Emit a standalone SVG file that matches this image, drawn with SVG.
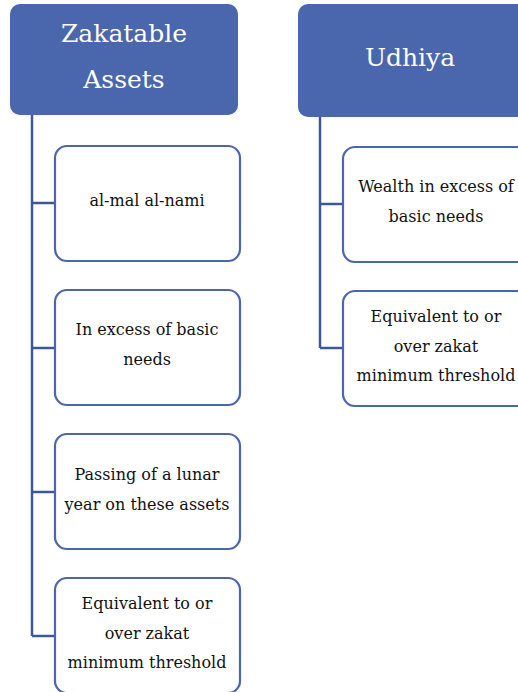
<svg xmlns="http://www.w3.org/2000/svg" width="518" height="692" viewBox="0 0 518 692">
<style>
.hdr{fill:#4A66AC}
.box{fill:#fff;stroke:#4A66AC;stroke-width:2.2}
.ht{font-family:'DejaVu Serif','Liberation Serif',serif;font-size:25px;fill:#fff;text-anchor:middle}
.bt{font-family:'DejaVu Serif','Liberation Serif',serif;font-size:16px;fill:#111;text-anchor:middle}
.con{fill:none;stroke:#3F5795;stroke-width:2.5}
</style>
<rect width="518" height="692" fill="#fff"/>
<g id="connectors">
<path class="con" d="M32 115 V636 M32 203 H55 M32 348 H55 M32 492 H55 M32 636 H55"/>
<path class="con" d="M320 117 V348 M320 204 H343 M320 348 H343"/>
</g>
<g id="zakatable">
<rect class="hdr" x="10" y="4" width="228" height="111" rx="10"/>
<text class="ht" x="124" y="42">Zakatable</text>
<text class="ht" x="124" y="88">Assets</text>
</g>
<g id="udhiya">
<rect class="hdr" x="298" y="4" width="240" height="113" rx="10"/>
<text class="ht" x="410" y="66">Udhiya</text>
</g>
<g id="z1">
<rect class="box" x="55" y="146" width="185" height="115" rx="12"/>
<text class="bt" x="147" y="206">al-mal al-nami</text>
</g>
<g id="z2">
<rect class="box" x="55" y="290" width="185" height="115" rx="12"/>
<text class="bt" x="147" y="335">In excess of basic</text>
<text class="bt" x="147" y="365">needs</text>
</g>
<g id="z3">
<rect class="box" x="55" y="434" width="185" height="115" rx="12"/>
<text class="bt" x="147" y="480">Passing of a lunar</text>
<text class="bt" x="147" y="510">year on these assets</text>
</g>
<g id="z4">
<rect class="box" x="55" y="578" width="185" height="115" rx="12"/>
<text class="bt" x="147" y="609">Equivalent to or</text>
<text class="bt" x="147" y="639">over zakat</text>
<text class="bt" x="147" y="668">minimum threshold</text>
</g>
<g id="u1">
<rect class="box" x="343" y="147" width="185" height="115" rx="12"/>
<text class="bt" x="436" y="192">Wealth in excess of</text>
<text class="bt" x="436" y="222">basic needs</text>
</g>
<g id="u2">
<rect class="box" x="343" y="291" width="185" height="115" rx="12"/>
<text class="bt" x="436" y="322">Equivalent to or</text>
<text class="bt" x="436" y="352">over zakat</text>
<text class="bt" x="436" y="381">minimum threshold</text>
</g>
</svg>
